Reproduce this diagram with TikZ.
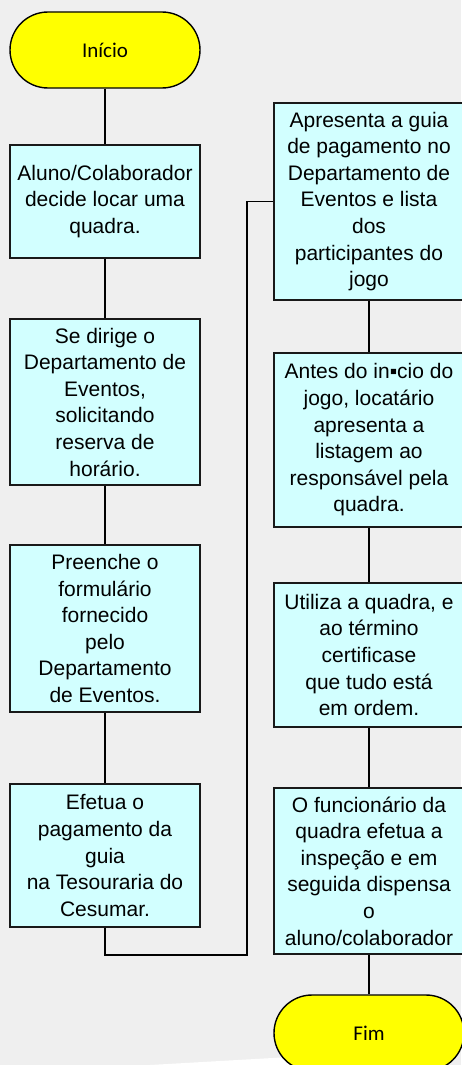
\documentclass[tikz,border=0pt]{standalone}
\usepackage{fontspec}
\setmainfont{Liberation Sans}
\newfontfamily\carlito{Carlito}
\definecolor{bgc}{HTML}{EFEFEF}
\definecolor{boxc}{HTML}{D2FFFF}
\definecolor{termc}{HTML}{FFFF00}
\begin{document}
\begin{tikzpicture}[x=1pt,y=-1pt,
  stepbox/.style={draw=black!90,line width=1.4pt,fill=boxc,minimum width=190pt,
    align=center,inner sep=0pt,font=\fontsize{21}{26.6}\selectfont},
  term/.style={draw=black,line width=1.4pt,fill=termc,minimum width=190pt,minimum height=76pt,
    rounded corners=38pt,inner sep=0pt,font=\carlito\fontsize{21}{26}\selectfont},
  conn/.style={line width=1.6pt,black}]
\useasboundingbox (0,0) rectangle (461,1065);
\fill[bgc] (0,0) rectangle (461,1065);
\fill[white] (150,1065) -- (290,1057) -- (290,1065) -- cycle;

\node[term] (inicio) at (105,50) {Início};
\node[stepbox,minimum height=113pt] (b1) at (105,201.5) {Aluno/Colaborador\\decide locar uma\\quadra.};
\node[stepbox,minimum height=166pt] (b2) at (105,402) {Se dirige o\\Departamento de\\Eventos,\\solicitando\\reserva de\\horário.};
\node[stepbox,minimum height=167pt] (b3) at (105,628.5) {Preenche o\\formulário\\fornecido\\pelo\\Departamento\\de Eventos.};
\node[stepbox,minimum height=143pt] (b4) at (105,855.5) {Efetua o\\pagamento da\\guia\\na Tesouraria do\\Cesumar.};

\node[stepbox,minimum height=197pt] (b5) at (369,201.5) {Apresenta a guia\\de pagamento no\\Departamento de\\Eventos e lista\\dos\\participantes do\\jogo};
\node[stepbox,minimum height=174pt] (b6) at (369,440) {Antes do in▪cio do\\jogo, locatário\\apresenta a\\listagem ao\\responsável pela\\quadra.};
\node[stepbox,minimum height=144pt] (b7) at (369,655) {Utiliza a quadra, e\\ao término\\certificase\\que tudo está\\em ordem.};
\node[stepbox,minimum height=166pt] (b8) at (369,871) {O funcionário da\\quadra efetua a\\inspeção e em\\seguida dispensa\\o\\aluno/colaborador};
\node[term] (fim) at (369,1033) {Fim};

\coordinate (turn) at (247,955);

\draw[conn] (inicio) -- (b1);
\draw[conn] (b1) -- (b2);
\draw[conn] (b2) -- (b3);
\draw[conn] (b3) -- (b4);
\draw[conn] (b4.south) |- (turn) |- (b5.west);
\draw[conn] (b5) -- (b6);
\draw[conn] (b6) -- (b7);
\draw[conn] (b7) -- (b8);
\draw[conn] (b8) -- (fim);
\end{tikzpicture}
\end{document}
